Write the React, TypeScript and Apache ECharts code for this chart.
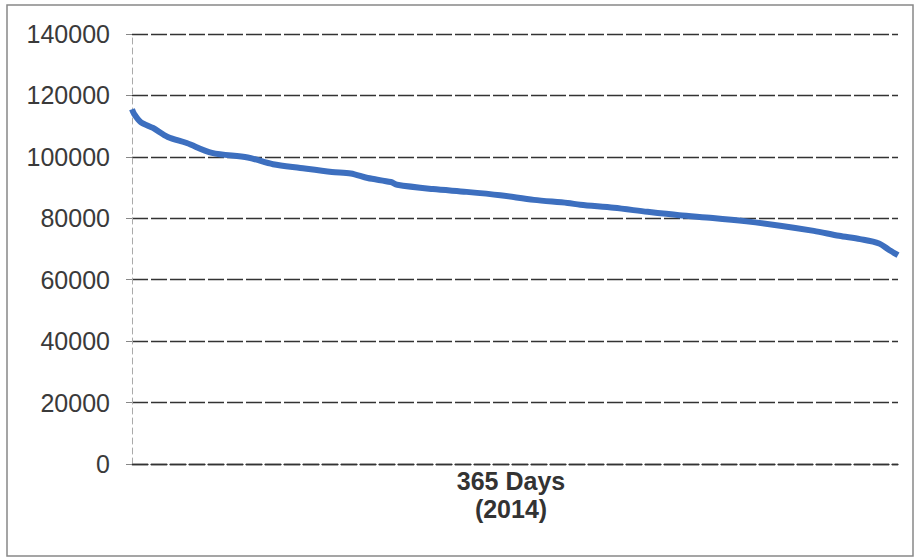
import React, { useEffect, useRef } from "react";
import * as echarts from "echarts";

// Load duration curve: [day rank, load]
const days = [1, 2, 5, 11, 18, 27, 39, 56, 68, 81, 96, 105, 113, 124, 127, 144, 160, 176, 192, 208, 214, 230, 246, 261, 277, 293, 309, 325, 337, 347, 356, 361, 365];
const loads = [115500, 114000, 111400, 109400, 106500, 104500, 101300, 99800, 97600, 96400, 95100, 94600, 93100, 91800, 90900, 89500, 88600, 87500, 86000, 85000, 84400, 83400, 82100, 81000, 80100, 79000, 77600, 75900, 74300, 73200, 71800, 69600, 68000];
const yTicks = [0, 20000, 40000, 60000, 80000, 100000, 120000, 140000];
const axisTitle = ["365 Days", "(2014)"];

export default function App() {
  const ref = useRef<HTMLDivElement>(null);
  useEffect(() => {
    if (!ref.current) return;
    const chart = echarts.init(ref.current, undefined, { renderer: "svg" });
    const data = days.map((d, i) => [d, loads[i]]);
    chart.setOption({
      animation: false,
      backgroundColor: "#ffffff",
      grid: { left: 132, right: 19, top: 34, bottom: 96, containLabel: false },
      xAxis: {
        type: "value",
        min: 1,
        max: 365,
        axisLabel: { show: false },
        axisTick: { show: false },
        splitLine: { show: false },
        axisLine: { show: true, onZero: false, lineStyle: { color: "#333", width: 1.3, type: [16, 3] } },
      },
      yAxis: {
        type: "value",
        min: yTicks[0],
        max: yTicks[yTicks.length - 1],
        interval: 20000,
        axisLine: { show: true, lineStyle: { color: "#aaa", width: 1, type: [6, 4] } },
        axisTick: { show: true, length: 6, lineStyle: { color: "#888" } },
        axisLabel: {
          margin: 22,
          fontFamily: "Liberation Sans, Arial, sans-serif",
          fontSize: 25,
          color: "#3a3a3a",
          formatter: (v: number) => String(v),
        },
        splitLine: { show: true, lineStyle: { color: "#333", width: 1.3, type: [16, 3] } },
      },
      series: [
        {
          type: "line",
          data,
          smooth: 0.3,
          showSymbol: false,
          lineStyle: { color: "#3d6fbf", width: 6 },
        },
      ],
      graphic: [
        {
          type: "rect",
          shape: { x: 7, y: 5, width: 906, height: 551 },
          style: { fill: "none", stroke: "#888", lineWidth: 1.5 },
          silent: true,
        },
        {
          type: "text",
          x: 511,
          y: 467,
          style: {
            text: axisTitle.join("\n"),
            align: "center",
            verticalAlign: "top",
            fontFamily: "Liberation Sans, Arial, sans-serif",
            fontWeight: "bold",
            fontSize: 25,
            lineHeight: 28,
            fill: "#333",
          },
        },
      ],
    });
    return () => chart.dispose();
  }, []);
  return (
    <div
      ref={ref}
      style={{ position: "fixed", left: 0, top: 0, width: 917, height: 560 }}
    />
  );
}
